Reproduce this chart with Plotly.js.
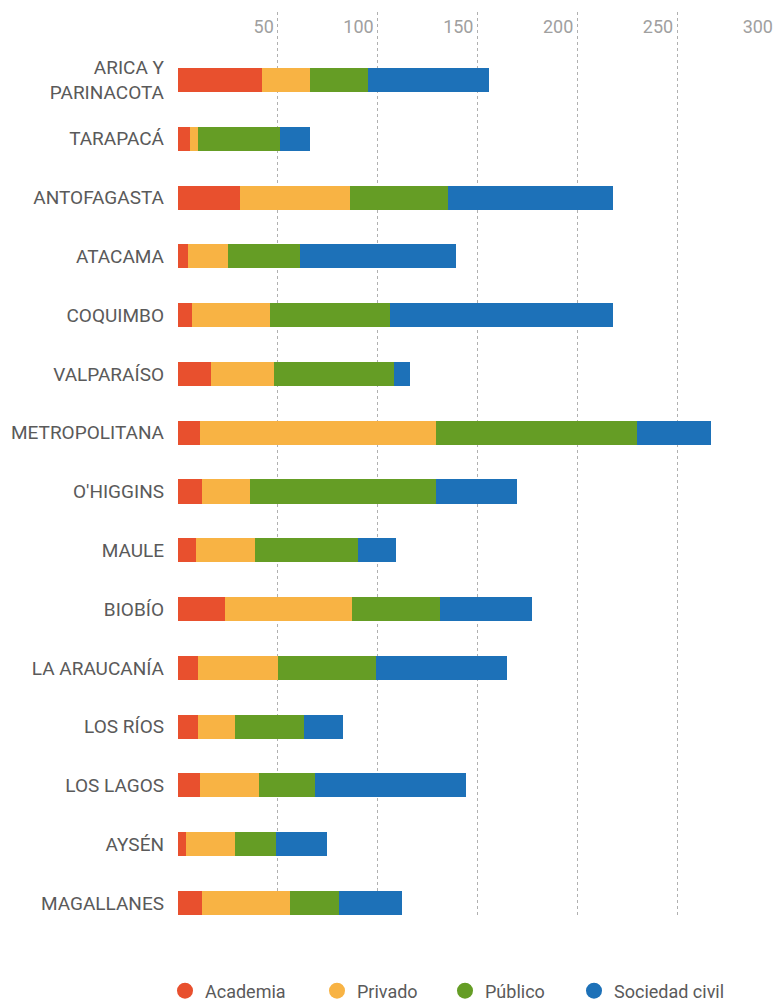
<!DOCTYPE html>
<html>
<head>
<meta charset="utf-8">
<script src="https://cdn.plot.ly/plotly-3.0.1.min.js"></script>
<style>html,body{margin:0;padding:0;overflow:hidden;background:#fff}#chart{width:777px;height:1003px}</style>
</head>
<body>
<div id="chart"></div>
<script>
const regions = ["ARICA Y<br>PARINACOTA","TARAPACÁ","ANTOFAGASTA","ATACAMA","COQUIMBO","VALPARAÍSO","METROPOLITANA","O'HIGGINS","MAULE","BIOBÍO","LA ARAUCANÍA","LOS RÍOS","LOS LAGOS","AYSÉN","MAGALLANES"];
const academia      = [42, 6, 31, 5, 7, 16.5, 11, 12, 9, 23.5, 10, 10, 11, 4, 12];
const privado       = [24, 4, 55, 20, 39, 31.5, 118, 24, 29.5, 63.5, 40, 18.5, 29.5, 24.5, 44];
const publico       = [29, 41, 49, 36, 60, 60, 101, 93, 51.5, 44, 49, 34.5, 28, 20.5, 24.5];
const sociedadCivil = [61, 15, 83, 78, 112, 8, 37, 41, 19, 46.5, 66, 19.5, 75.5, 25.5, 31.5];
const tickValues = [50, 100, 150, 200, 250, 300];
const seriesNames = ["Academia", "Privado", "Público", "Sociedad civil"];
const seriesColors = ["#E8502E", "#F8B344", "#659D25", "#1D71B8"];
const seriesData = [academia, privado, publico, sociedadCivil];
const legendWidths = [107, 83, 84, 113];

const FONT = "Roboto, 'Open Sans', sans-serif";
const traces = [];
seriesData.forEach((vals, i) => {
  traces.push({
    type: "bar", orientation: "h", x: vals, y: regions,
    marker: {color: seriesColors[i], line: {width: 0}},
    width: 0.41, showlegend: false, hoverinfo: "x+name", name: seriesNames[i]
  });
});
seriesNames.forEach((n, i) => {
  traces.push({
    type: "scatter", mode: "markers", x: [null], y: [null], name: n,
    marker: {color: seriesColors[i], size: 17, symbol: "circle"},
    showlegend: true, legendwidth: legendWidths[i]
  });
});

const layout = {
  width: 777, height: 1003,
  margin: {l: 178, r: 0, t: 12, b: 88, autoexpand: false},
  paper_bgcolor: "#fff", plot_bgcolor: "#fff",
  barmode: "stack",
  font: {family: FONT, color: "#5a5a5a"},
  xaxis: {
    side: "top", range: [0, 300], tickvals: tickValues, ticktext: tickValues.map(String),
    ticklabelposition: "inside left", ticklabelshift: -4, ticklabelstandoff: 2,
    showgrid: true, gridcolor: "#b0b0b0", griddash: "dot", gridwidth: 1,
    zeroline: false, showline: false, ticks: "",
    tickfont: {family: FONT, size: 18, color: "#a0a0a0"}, fixedrange: true
  },
  yaxis: {
    type: "category", autorange: false, range: [14.204, -1.157],
    showgrid: false, zeroline: false, showline: false, ticks: "",
    ticklabelstandoff: 13,
    tickfont: {family: FONT, size: 19, color: "#5a5a5a"}, fixedrange: true
  },
  legend: {
    orientation: "h", x: -0.0217, xanchor: "left", y: -0.0636, yanchor: "top",
    font: {family: FONT, size: 18, color: "#5a5a5a"}, itemwidth: 30, traceorder: "normal",
    bgcolor: "rgba(0,0,0,0)"
  },
  showlegend: true, bargap: 0.59
};
Plotly.newPlot("chart", traces, layout, {displayModeBar: false, staticPlot: true});
</script>
</body>
</html>
